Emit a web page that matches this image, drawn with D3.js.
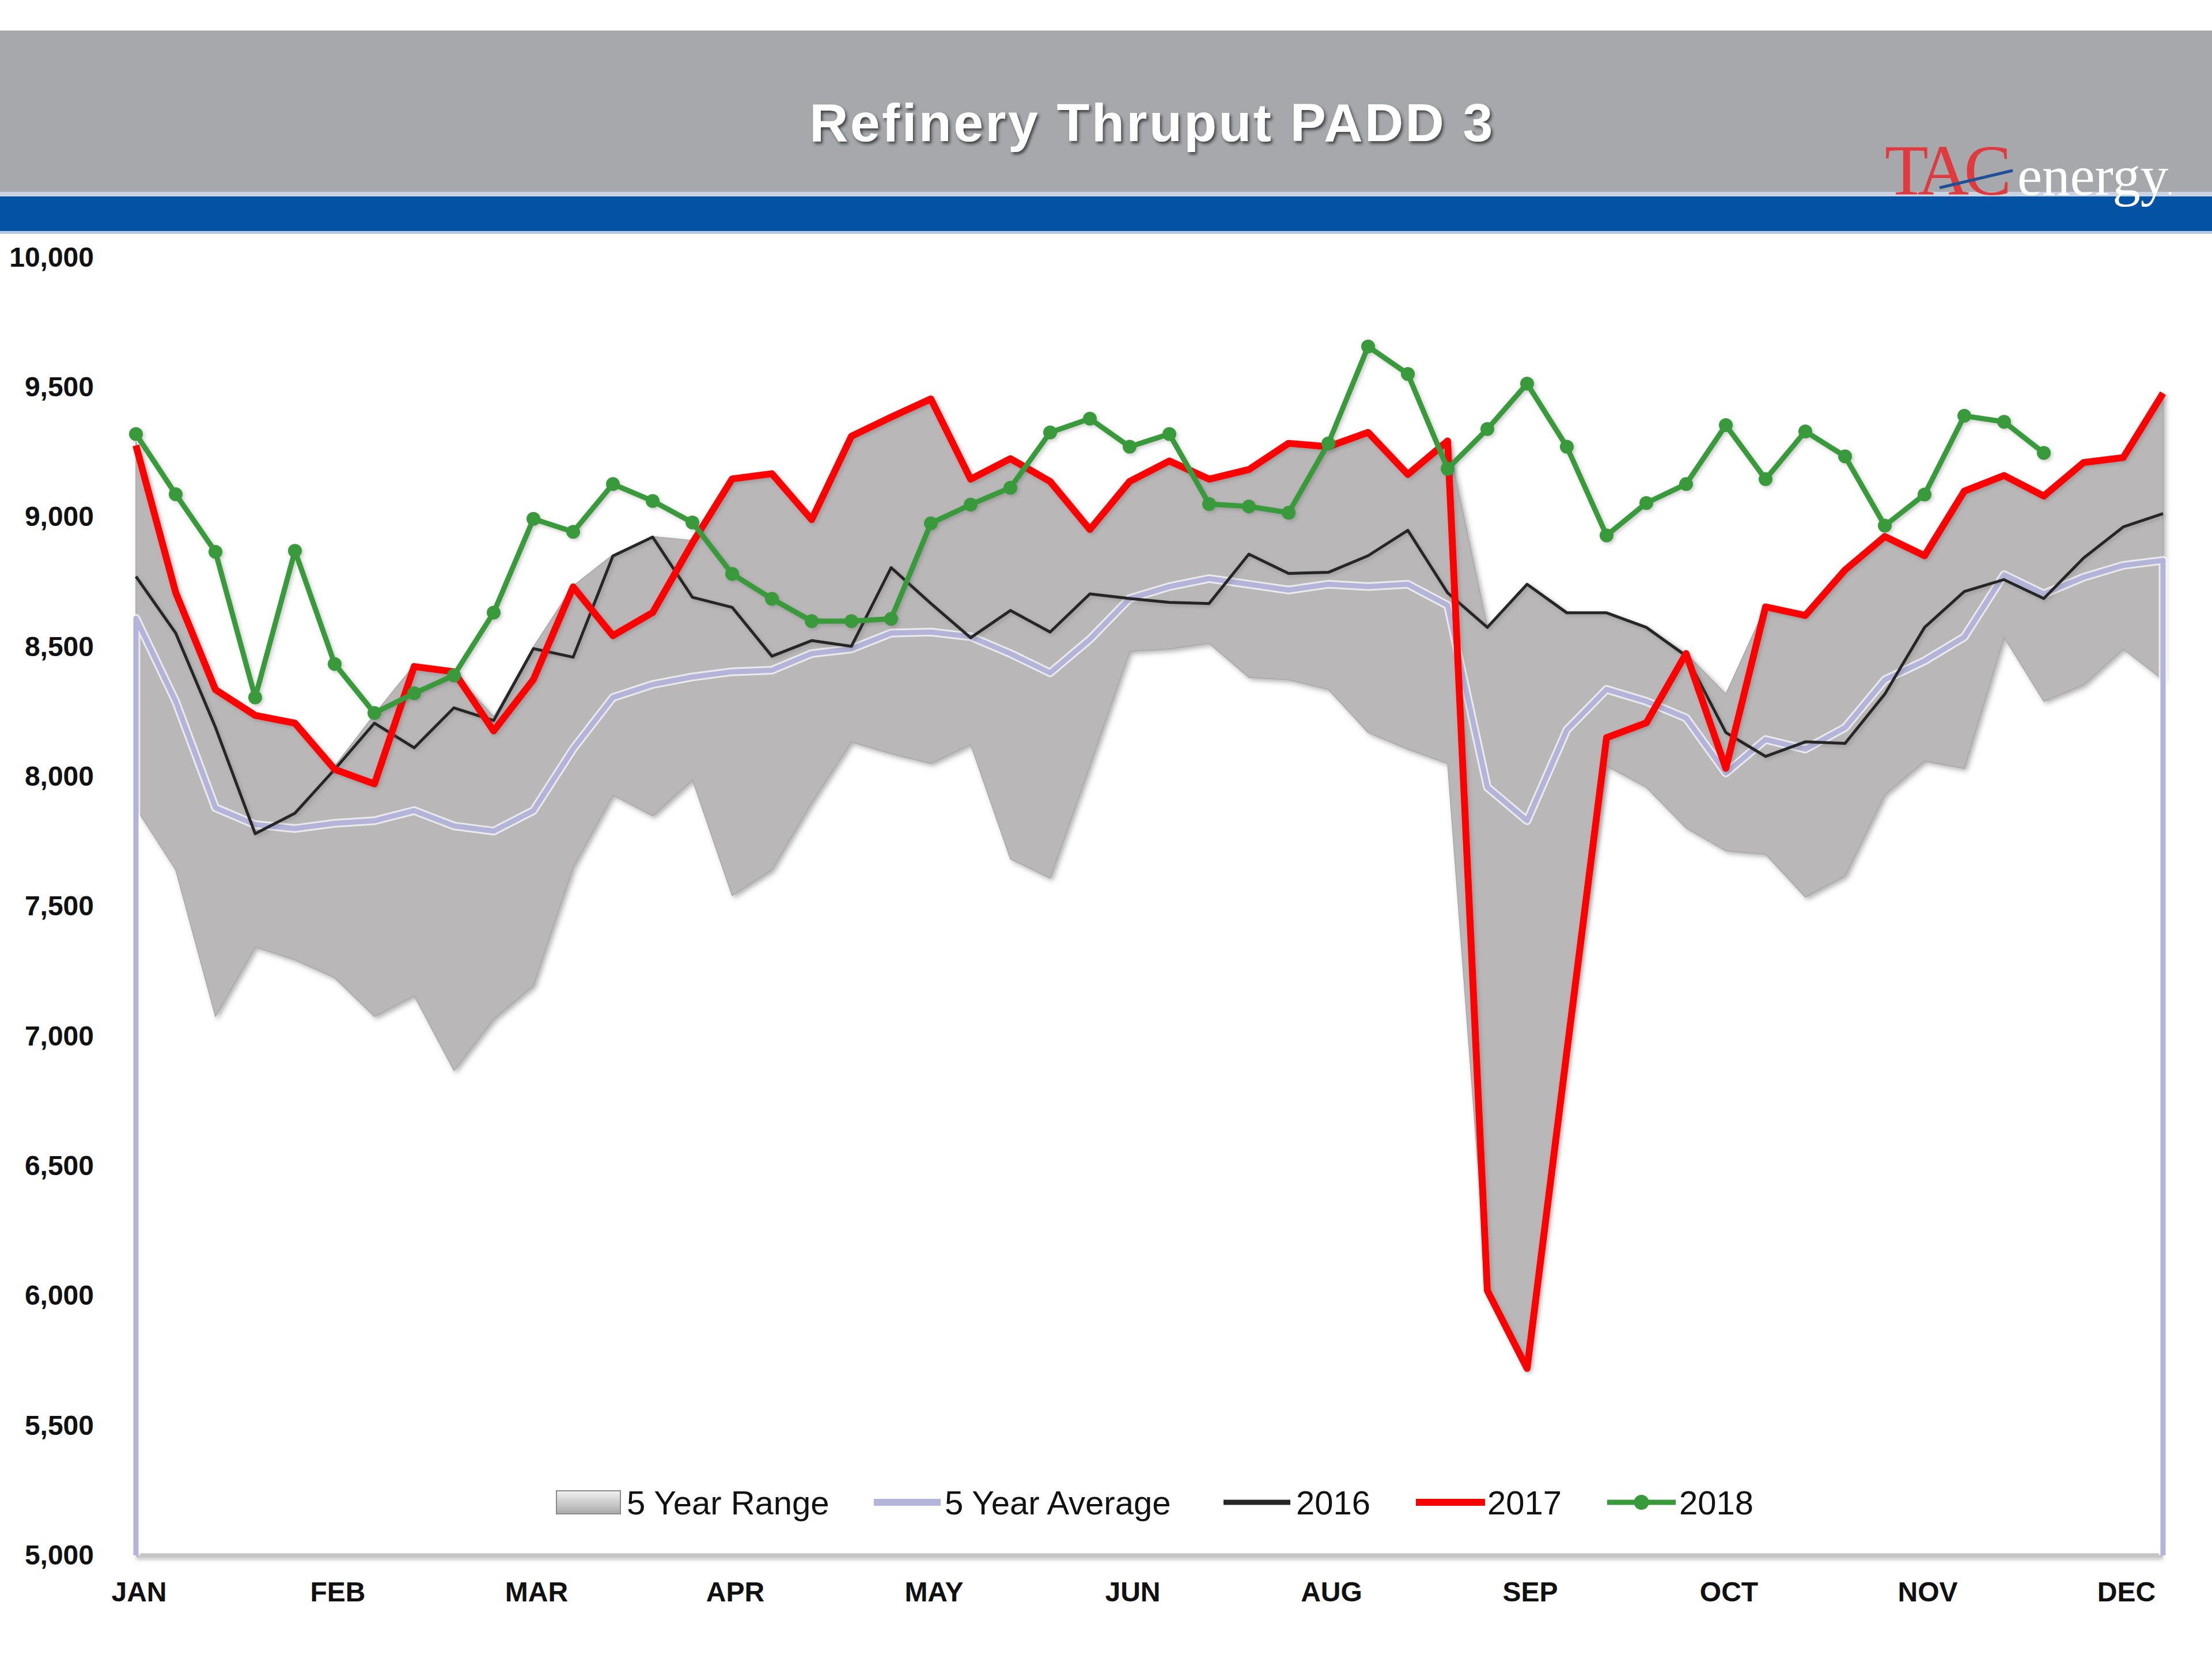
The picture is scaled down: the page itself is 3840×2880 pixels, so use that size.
<!DOCTYPE html>
<html><head><meta charset="utf-8">
<script src="https://cdn.jsdelivr.net/npm/d3@7/dist/d3.min.js"></script>
<style>html,body{margin:0;padding:0;background:#fff;} svg{display:block}</style>
</head><body>
<svg id="chart" width="3840" height="2880"></svg>
<script>
// ---------------- DATA ----------------
const weeks = [1,2,3,4,5,6,7,8,9,10,11,12,13,14,15,16,17,18,19,20,21,22,23,24,25,26,
               27,28,29,30,31,32,33,34,35,36,37,38,39,40,41,42,43,44,45,46,47,48,49,50,51,52];
const monthLabels = ["JAN","FEB","MAR","APR","MAY","JUN","AUG","SEP","OCT","NOV","DEC"];
const labelEvery = 5;
const yTicks = [5000,5500,6000,6500,7000,7500,8000,8500,9000,9500,10000];
const seriesNames = ["5 Year Range","5 Year Average","2016","2017","2018"];

const rangeMax = [9290,8720,8335,8236,8206,8040,8240,8430,8400,8230,8500,8735,8855,8925,8910,9150,9167,8990,
                  9311,9385,9455,9146,9225,9137,8952,9137,9216,9146,9183,9284,9271,9326,9164,9293,
                  8575,8741,8631,8631,8575,8474,8318,8654,8621,8796,8925,8851,9100,9160,9081,9210,9229,9477];
const rangeMin = [7879,7641,7076,7344,7294,7225,7076,7156,6868,7066,7195,7651,7929,7849,7988,7542,7641,7900,
                  8134,8088,8051,8124,7683,7609,8042,8483,8492,8514,8382,8373,8336,8170,8106,8051,
                  6020,5720,6940,8042,7959,7802,7714,7701,7536,7618,7931,8060,8032,8538,8290,8354,8492,8373];
const avg5 = [8610,8290,7880,7815,7800,7820,7830,7869,7810,7790,7869,8107,8305,8355,8384,8404,8410,8474,
              8492,8553,8557,8539,8474,8400,8529,8686,8732,8763,8741,8719,8741,8732,8741,8660,
              7959,7830,8180,8336,8290,8226,8014,8143,8106,8189,8373,8446,8538,8778,8704,8768,8814,8833];
const y2016 = [8771,8553,8190,7780,7859,8028,8206,8111,8265,8216,8493,8460,8850,8923,8691,8652,8464,8524,
               8502,8805,8667,8535,8640,8557,8704,8686,8671,8667,8857,8783,8787,8851,8949,8708,
               8575,8741,8631,8631,8575,8465,8170,8078,8134,8128,8318,8575,8713,8759,8686,8842,8962,9013];
const y2017 = [9276,8709,8335,8236,8206,8028,7972,8424,8404,8176,8374,8731,8543,8632,8900,9147,9167,8990,
               9311,9385,9455,9146,9225,9137,8952,9137,9216,9146,9183,9284,9271,9326,9164,9293,
               6020,5720,6940,8150,8207,8474,8032,8654,8621,8796,8925,8851,9100,9160,9081,9210,9229,9477];
const y2018 = [9320,9088,8866,8305,8870,8434,8245,8321,8390,8632,8993,8943,9127,9062,8979,8781,8685,8599,
               8599,8608,8976,9048,9113,9326,9379,9271,9320,9050,9041,9017,9284,9657,9551,9186,
               9339,9514,9271,8929,9054,9127,9354,9146,9330,9234,8967,9087,9390,9367,9247];

// ---------------- LAYOUT ----------------
const svg = d3.select("#chart");
const W = 3840;
const plot = {left: 236, right: 3755, top: 447, bottom: 2700};

const x = d3.scalePoint().domain(weeks).range([plot.left, plot.right]);
const y = d3.scaleLinear().domain([5000, 10000]).range([plot.bottom, plot.top]);

const defs = svg.append("defs");
const sh = defs.append("filter").attr("id","areaShadow").attr("x","-5%").attr("y","-5%").attr("width","110%").attr("height","110%");
sh.append("feDropShadow").attr("dx",4).attr("dy",4).attr("stdDeviation",4).attr("flood-color","#555").attr("flood-opacity",0.45);
const lsh = defs.append("filter").attr("id","lineShadow").attr("x","-5%").attr("y","-5%").attr("width","110%").attr("height","110%");
lsh.append("feDropShadow").attr("dx",3).attr("dy",3).attr("stdDeviation",3).attr("flood-color","#555").attr("flood-opacity",0.3);
const ash = defs.append("filter").attr("id","axisShadow").attr("filterUnits","userSpaceOnUse")
  .attr("x",0).attr("y",2660).attr("width",3840).attr("height",80);
ash.append("feDropShadow").attr("dx",0).attr("dy",4).attr("stdDeviation",3).attr("flood-color","#777").attr("flood-opacity",0.45);
const tsh = defs.append("filter").attr("id","titleShadow").attr("x","-5%").attr("y","-20%").attr("width","110%").attr("height","140%");
tsh.append("feDropShadow").attr("dx",3).attr("dy",4).attr("stdDeviation",2.5).attr("flood-color","#222").attr("flood-opacity",0.75);
const grad = defs.append("linearGradient").attr("id","swatchGrad").attr("x1",0).attr("y1",0).attr("x2",0).attr("y2",1);
grad.append("stop").attr("offset","0%").attr("stop-color","#f2f2f2");
grad.append("stop").attr("offset","100%").attr("stop-color","#a9a9a9");

// ---------------- HEADER ----------------
svg.append("rect").attr("x",0).attr("y",0).attr("width",W).attr("height",2880).attr("fill","#fff");
svg.append("rect").attr("x",0).attr("y",53).attr("width",W).attr("height",282).attr("fill","#A7A8AC");
svg.append("rect").attr("x",0).attr("y",333).attr("width",W).attr("height",8).attr("fill","#C9D3E3");
svg.append("rect").attr("x",0).attr("y",341).attr("width",W).attr("height",60).attr("fill","#0452A4");
svg.append("rect").attr("x",0).attr("y",401).attr("width",W).attr("height",5).attr("fill","#B8C8E0");

svg.append("text")
  .attr("x", 2000).attr("y", 245)
  .attr("text-anchor","middle")
  .attr("font-family","'Liberation Sans', Arial, sans-serif")
  .attr("font-weight","bold")
  .attr("font-size",93)
  .attr("letter-spacing",3.5)
  .attr("fill","#fff")
  .attr("filter","url(#titleShadow)")
  .text("Refinery Thruput PADD 3");

// logo
const logo = svg.append("g");
logo.append("text").attr("x",3272).attr("y",338)
  .attr("font-family","'Liberation Serif', 'Times New Roman', serif")
  .attr("font-size",124).attr("letter-spacing",-9).attr("fill","#E03A3E").text("TAC");
logo.append("line").attr("x1",3367).attr("y1",326).attr("x2",3494).attr("y2",296)
  .attr("stroke","#1E4F99").attr("stroke-width",5);
logo.append("text").attr("x",3502).attr("y",338)
  .attr("font-family","'Liberation Serif', 'Times New Roman', serif")
  .attr("font-size",97).attr("fill","#fff").text("energy");
logo.append("text").attr("x",3762).attr("y",338)
  .attr("font-family","'Liberation Serif', serif").attr("font-size",40).attr("fill","#fff").text(".");

// ---------------- PLOT ----------------
const idx = weeks.map((w,i)=>i);

// bottom axis line (as a thin rect so the shadow filter has a non-empty box)
svg.append("rect").attr("x",plot.left).attr("width",plot.right-plot.left)
  .attr("y",y(5000)-3.5).attr("height",7)
  .attr("fill","#C4C4C4").attr("filter","url(#axisShadow)");

// 5-year range
const area = d3.area()
  .x(i => x(weeks[i]))
  .y0(i => y(rangeMin[i]))
  .y1(i => y(rangeMax[i]));
svg.append("path").datum(idx).attr("d", area)
  .attr("fill","#B9B7B7").attr("stroke","#A9A7A7").attr("stroke-width",1.5)
  .attr("filter","url(#areaShadow)");

// 5-year average (drawn as outlined area edge down to baseline)
const base = y.domain()[0];
const avgPts = [{w: weeks[0], v: base}]
  .concat(weeks.map((w,i)=>({w, v: avg5[i]})))
  .concat([{w: weeks[weeks.length-1], v: base}]);
const line = d3.line().x(d => x(d.w)).y(d => y(d.v));
svg.append("path").datum(avgPts).attr("d", line)
  .attr("fill","none").attr("stroke","#ffffff").attr("stroke-opacity",0.7).attr("stroke-width",15).attr("stroke-linejoin","round");
svg.append("path").datum(avgPts).attr("d", line)
  .attr("fill","none").attr("stroke","#B4B4DB").attr("stroke-width",9).attr("stroke-linejoin","round");

// 2016
svg.append("path").datum(weeks.map((w,i)=>({w, v: y2016[i]}))).attr("d", line)
  .attr("fill","none").attr("stroke","#262626").attr("stroke-width",5).attr("stroke-linejoin","round")
  .attr("filter","url(#lineShadow)");
// 2017
svg.append("path").datum(weeks.map((w,i)=>({w, v: y2017[i]}))).attr("d", line)
  .attr("fill","none").attr("stroke","#FF0000").attr("stroke-width",12).attr("stroke-linejoin","round")
  .attr("filter","url(#lineShadow)");
// 2018
const d18 = y2018.map((v,i)=>({w: weeks[i], v}));
const g18 = svg.append("g").attr("filter","url(#lineShadow)");
g18.append("path").datum(d18).attr("d", line)
  .attr("fill","none").attr("stroke","#389A3A").attr("stroke-width",9).attr("stroke-linejoin","round");
g18.selectAll("circle").data(d18).join("circle")
  .attr("cx", d => x(d.w)).attr("cy", d => y(d.v)).attr("r",12).attr("fill","#389A3A");

// ---------------- AXES ----------------
const yAxis = d3.axisLeft(y).tickValues(yTicks).tickFormat(d3.format(",")).tickSize(0).tickPadding(73);
const gy = svg.append("g").attr("transform",`translate(${plot.left},0)`).call(yAxis);
gy.select(".domain").remove();
gy.selectAll("text").attr("font-family","'Liberation Sans', Arial, sans-serif")
  .attr("font-weight","bold").attr("font-size",48).attr("fill","#111");

const xTickVals = weeks.filter((w,i)=> i % labelEvery === 0);
const xAxis = d3.axisBottom(x).tickValues(xTickVals)
  .tickFormat(w => monthLabels[weeks.indexOf(w)/labelEvery]).tickSize(0).tickPadding(46);
const gx = svg.append("g").attr("transform",`translate(0,${plot.bottom})`).call(xAxis);
gx.select(".domain").remove();
gx.selectAll("text").attr("font-family","'Liberation Sans', Arial, sans-serif")
  .attr("font-weight","bold").attr("font-size",48).attr("fill","#111")
  .attr("dx", 5);

// ---------------- LEGEND ----------------
const legY = 2608;
const lg = svg.append("g").attr("font-family","'Liberation Sans', Arial, sans-serif").attr("font-size",58).attr("fill","#111");
const legendLayout = [
  {name: seriesNames[0], sx: 966,  ex: 1077, tx: 1088, type:"rect"},
  {name: seriesNames[1], sx: 1517, ex: 1633, tx: 1640, type:"line", color:"#B4B4DB", w:12},
  {name: seriesNames[2], sx: 2124, ex: 2240, tx: 2250, type:"line", color:"#262626", w:9},
  {name: seriesNames[3], sx: 2458, ex: 2578, tx: 2582, type:"line", color:"#FF0000", w:12},
  {name: seriesNames[4], sx: 2790, ex: 2909, tx: 2915, type:"marker", color:"#389A3A", w:9}
];
legendLayout.forEach(it => {
  if (it.type === "rect") {
    lg.append("rect").attr("x",it.sx).attr("y",legY-20).attr("width",it.ex-it.sx).attr("height",40)
      .attr("fill","url(#swatchGrad)").attr("stroke","#8a8a8a").attr("stroke-width",2);
  } else {
    lg.append("line").attr("x1",it.sx).attr("x2",it.ex).attr("y1",legY).attr("y2",legY)
      .attr("stroke",it.color).attr("stroke-width",it.w);
    if (it.type === "marker") {
      lg.append("circle").attr("cx",(it.sx+it.ex)/2).attr("cy",legY).attr("r",13).attr("fill",it.color);
    }
  }
  lg.append("text").attr("x",it.tx).attr("y",legY).attr("dy","0.36em").text(it.name);
});
</script>
</body></html>
